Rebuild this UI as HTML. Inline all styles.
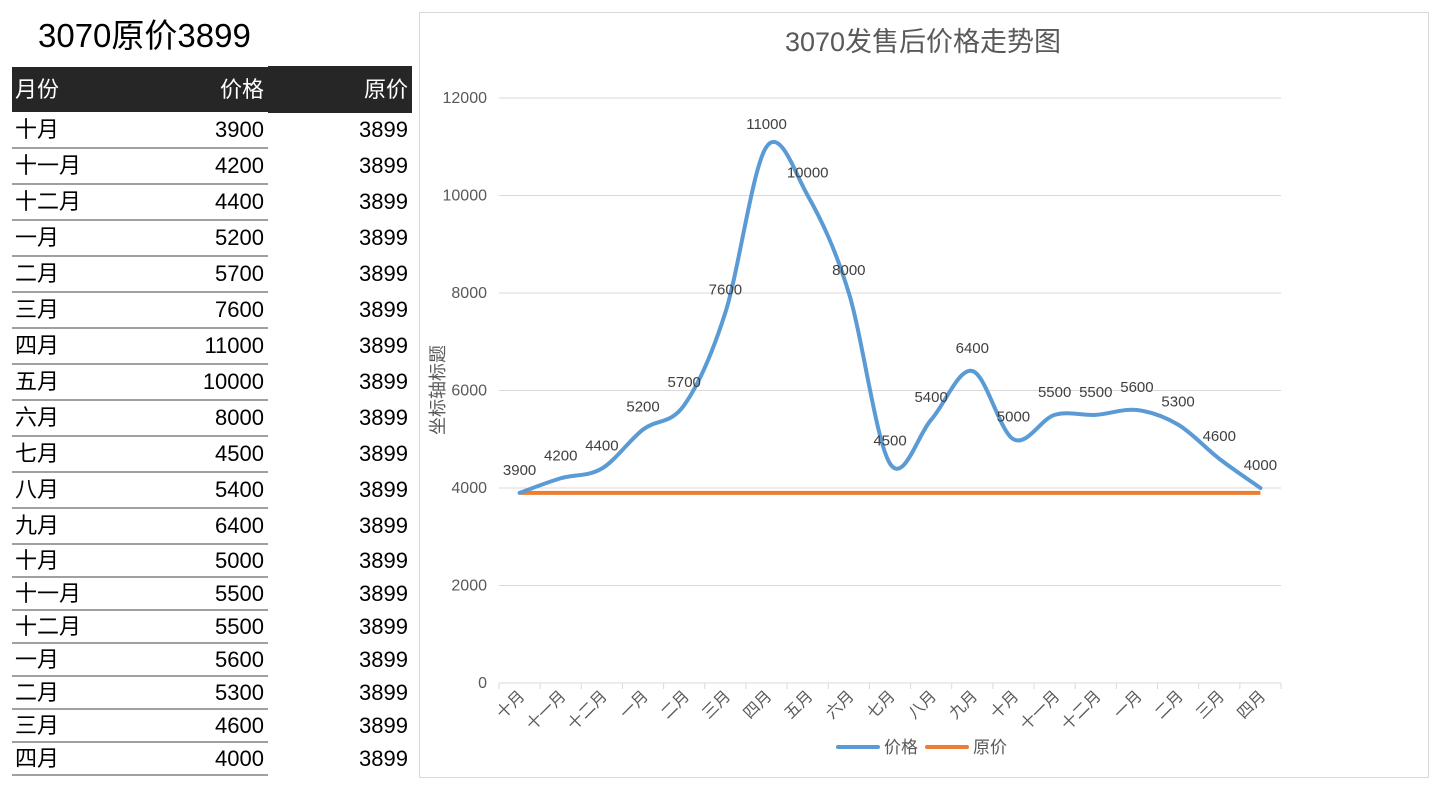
<!DOCTYPE html>
<html><head><meta charset="utf-8">
<style>
body{margin:0;width:1440px;height:789px;background:#fff;font-family:"Liberation Sans","Noto Sans CJK SC",sans-serif;position:relative;overflow:hidden}
.abs{position:absolute}
</style></head><body>
<div class="abs" style="left:38px;top:16px;font-size:33px;line-height:40px;color:#000">3070原价3899</div>
<div id="tbl"></div>
<div class="abs" style="left:419px;top:12px;width:1008px;height:764px;border:1px solid #d9d9d9"></div>
<svg id="chart" class="abs" style="left:0;top:0" width="1440" height="789"></svg>
<script>
const months=["十月","十一月","十二月","一月","二月","三月","四月","五月","六月","七月","八月","九月","十月","十一月","十二月","一月","二月","三月","四月"];
const prices=[3900,4200,4400,5200,5700,7600,11000,10000,8000,4500,5400,6400,5000,5500,5500,5600,5300,4600,4000];
const original=[3899,3899,3899,3899,3899,3899,3899,3899,3899,3899,3899,3899,3899,3899,3899,3899,3899,3899,3899];
const yTicks=[0,2000,4000,6000,8000,10000,12000];

// table
const tbl=document.getElementById('tbl');
function mk(tag,style,txt){const e=document.createElement(tag);e.style.cssText=style;if(txt!==undefined)e.textContent=txt;tbl.appendChild(e);return e;}
function cellStyle(top,h,color,align,left,width){return 'position:absolute;left:'+left+'px;width:'+width+'px;top:'+top+'px;height:'+h+'px;display:flex;align-items:center;justify-content:'+align+';font-size:22px;line-height:24px;color:'+color;}
let h=mk('div','position:absolute;left:12px;top:67px;width:256px;height:45px;background:#262626');


let h2=mk('div','position:absolute;left:268px;top:66px;width:144px;height:47px;background:#262626');


let c1=mk('div',cellStyle(67,45,'#fff','flex-start',15,120),'月份');


let c2=mk('div',cellStyle(67,45,'#fff','flex-end',140,124),'价格');


let c3=mk('div',cellStyle(67,45,'#fff','flex-end',270,138),'原价');


let y0=112;
for(let i=0;i<months.length;i++){
  const rh=i<12?36:33;
  const a=mk('div',cellStyle(y0,rh,'#000','flex-start',15,120),months[i]);
  
  
  const b=mk('div',cellStyle(y0,rh,'#000','flex-end',140,124),prices[i]);
  
  
  const c=mk('div',cellStyle(y0,rh,'#000','flex-end',270,138),original[i]);
  
  
  y0+=rh;
  const l=mk('div','position:absolute;left:12px;top:'+(y0-1)+'px;width:256px;height:1.5px;background:#a0a0a0');
  
  
}

// chart
const svg=document.getElementById('chart');
const NS='http://www.w3.org/2000/svg';
const X0=499,X1=1281,YB=683,YT=98,YMAX=12000;
const bw=(X1-X0)/months.length;
const xs=i=>X0+bw*(i+0.5);
const ys=v=>YB-(v/YMAX)*(YB-YT);
function el(tag,attrs,txt){const e=document.createElementNS(NS,tag);for(const k in attrs)e.setAttribute(k,attrs[k]);if(txt!==undefined)e.textContent=txt;svg.appendChild(e);return e;}
const F='"Liberation Sans","Noto Sans CJK SC",sans-serif';
let t=el('text',{x:923,y:51,'text-anchor':'middle','font-size':27,fill:'#595959','font-family':F},'3070发售后价格走势图');


yTicks.forEach(v=>{
  const g=el('line',{x1:X0,x2:X1,y1:ys(v),y2:ys(v),stroke:'#d9d9d9','stroke-width':1});
  
  
  const tl=el('text',{x:487,y:ys(v)+5,'text-anchor':'end','font-size':16,fill:'#595959','font-family':F},v);
  
  
});
for(let i=0;i<=months.length;i++){
  const tk=el('line',{x1:X0+bw*i,x2:X0+bw*i,y1:YB,y2:YB+6,stroke:'#d9d9d9'});
  
  
}
months.forEach((m,i)=>{
  const x=xs(i)+6,y=YB+14;
  const tl=el('text',{x:x,y:y,'text-anchor':'end','font-size':16,fill:'#595959','font-family':F,transform:'rotate(-45 '+x+' '+y+')'},m);
  
  
});
let yt=el('text',{x:444,y:390,'text-anchor':'middle','font-size':18,fill:'#595959','font-family':F,transform:'rotate(-90 444 390)'},'坐标轴标题');


function smooth(vals){
  const p=vals.map((v,i)=>[xs(i),ys(v)]);
  let d='M'+p[0][0]+','+p[0][1];
  for(let i=0;i<p.length-1;i++){
    const p0=p[i-1]||p[i],p1=p[i],p2=p[i+1],p3=p[i+2]||p2;
    const k=1/6;
    d+=' C'+(p1[0]+(p2[0]-p0[0])*k)+','+(p1[1]+(p2[1]-p0[1])*k)+' '+(p2[0]-(p3[0]-p1[0])*k)+','+(p2[1]-(p3[1]-p1[1])*k)+' '+p2[0]+','+p2[1];
  }
  return d;
}
let lo=el('path',{d:smooth(original),fill:'none',stroke:'#ed7d31','stroke-width':4});


let lp=el('path',{d:smooth(prices),fill:'none',stroke:'#5b9bd5','stroke-width':4,'stroke-linecap':'round'});


prices.forEach((v,i)=>{
  const dl=el('text',{x:xs(i),y:ys(v)-18,'text-anchor':'middle','font-size':15,fill:'#404040','font-family':F},v);
  
  
});
let lg1=el('line',{x1:838,x2:878,y1:747,y2:747,stroke:'#5b9bd5','stroke-width':4,'stroke-linecap':'round'});


let lt1=el('text',{x:884,y:753,'font-size':17,fill:'#595959','font-family':F},'价格');


let lg2=el('line',{x1:927,x2:967,y1:747,y2:747,stroke:'#ed7d31','stroke-width':4,'stroke-linecap':'round'});


let lt2=el('text',{x:973,y:753,'font-size':17,fill:'#595959','font-family':F},'原价');


</script>
</body></html>
